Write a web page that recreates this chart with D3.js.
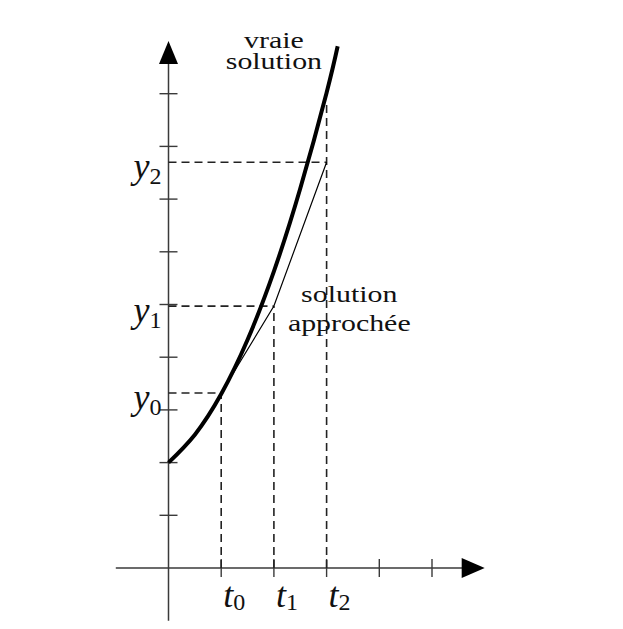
<!DOCTYPE html>
<html><head><meta charset="utf-8">
<script src="https://cdn.jsdelivr.net/npm/d3@7"></script>
<style>html,body{margin:0;padding:0;background:#fff;} text{font-family:"Liberation Serif","Times New Roman",serif;}</style>
</head><body>
<script>
// true solution samples (t, y)
const tTrue = [0, 0.5, 1, 1.5, 2, 2.5, 3, 3.21];
const yTrue = [2, 2.53, 3.3, 4.33, 5.63, 7.2, 9.02, 9.9];
// Euler steps
const tSteps = [1, 2, 3];
const ySteps = [3.32, 4.97, 7.7];
const tNames = ["0", "1", "2"];
const yTopT2 = 8.85;
// axis ticks
const xTicks = [1, 2, 3, 4, 5];
const yTicks = [1, 2, 3, 4, 5, 6, 7, 8, 9];
const xDomain = [-1, 6];
const yDomain = [-1, 10];
const trueLabel = ["vraie", "solution"];
const approxLabel = ["solution", "approchée"];

const W = 623, H = 629;
const unit = 52.7;
const x = d3.scaleLinear().domain([0, 1]).range([168.5, 168.5 + unit]);
const y = d3.scaleLinear().domain([0, 1]).range([568, 568 - unit]);

const svg = d3.select("body").append("svg").attr("width", W).attr("height", H)
  .style("background", "#fff");

const axisColor = "#3a3a3a";
svg.append("line").attr("x1", x(xDomain[0])).attr("x2", x(xDomain[1]) - 22)
  .attr("y1", y(0)).attr("y2", y(0)).attr("stroke", axisColor).attr("stroke-width", 1.5);
svg.append("line").attr("x1", x(0)).attr("x2", x(0))
  .attr("y1", y(yDomain[0])).attr("y2", y(yDomain[1]) + 22).attr("stroke", axisColor).attr("stroke-width", 1.5);
const xt = x(xDomain[1]), yt = y(yDomain[1]);
svg.append("path").attr("d", `M${xt},${y(0)} L${xt - 23},${y(0) - 10} L${xt - 23},${y(0) + 10} Z`).attr("fill", "#000");
svg.append("path").attr("d", `M${x(0)},${yt} L${x(0) - 9.5},${yt + 23} L${x(0) + 9.5},${yt + 23} Z`).attr("fill", "#000");
svg.selectAll(".xt").data(xTicks).enter().append("line")
  .attr("x1", d => x(d)).attr("x2", d => x(d)).attr("y1", y(0) - 9).attr("y2", y(0) + 9)
  .attr("stroke", axisColor).attr("stroke-width", 1.4);
svg.selectAll(".yt").data(yTicks).enter().append("line")
  .attr("x1", x(0) - 9).attr("x2", x(0) + 9).attr("y1", d => y(d)).attr("y2", d => y(d))
  .attr("stroke", axisColor).attr("stroke-width", 1.4);

// dashed guides
const g = svg.append("g").attr("stroke", "#222").attr("stroke-width", 1.6).attr("stroke-dasharray", "8,5").attr("fill", "none");
tSteps.forEach((t, i) => {
  g.append("line").attr("x1", x(0)).attr("x2", x(t)).attr("y1", y(ySteps[i])).attr("y2", y(ySteps[i]));
  const top = i === tSteps.length - 1 ? yTopT2 : ySteps[i];
  g.append("line").attr("x1", x(t)).attr("x2", x(t)).attr("y1", y(0)).attr("y2", y(top));
});

// Euler polyline
svg.append("path").datum(tSteps.map((t, i) => [t, ySteps[i]]))
  .attr("d", d3.line().x(d => x(d[0])).y(d => y(d[1])))
  .attr("fill", "none").attr("stroke", "#000").attr("stroke-width", 1.2);

// true solution
svg.append("path").datum(tTrue.map((t, i) => [t, yTrue[i]]))
  .attr("d", d3.line().x(d => x(d[0])).y(d => y(d[1])).curve(d3.curveNatural))
  .attr("fill", "none").attr("stroke", "#000").attr("stroke-width", 4);

// math labels
tSteps.forEach((t, i) => {
  const tx = svg.append("text").attr("x", x(t) + 13).attr("y", 606.5)
    .attr("text-anchor", "middle").attr("fill", "#111");
  tx.append("tspan").attr("font-style", "italic").attr("font-size", 36).text("t");
  tx.append("tspan").attr("font-size", 24).attr("dy", 3).text(tNames[i]);
  const ty = svg.append("text").attr("x", x(0) - 7).attr("y", y(ySteps[i]) + 16)
    .attr("text-anchor", "end").attr("fill", "#111");
  ty.append("tspan").attr("font-style", "italic").attr("font-size", 36).text("y");
  ty.append("tspan").attr("font-size", 24).attr("dy", 6).text(tNames[i]);
});

// text labels (one text element per block, lines as tspans)
function label(lines, cx, by, gap) {
  const t = svg.append("text").attr("transform", `translate(${cx},${by}) scale(1.3,1)`)
    .attr("text-anchor", "middle").attr("font-size", 23).attr("fill", "#111");
  lines.forEach((s, i) => {
    t.append("tspan").attr("x", 0).attr("dy", i === 0 ? 0 : gap).text(s);
  });
}
label(trueLabel, x(2.0), y(9.87), 21);
label(approxLabel, x(3.43), y(5.05), 29.5);
</script>
</body></html>
